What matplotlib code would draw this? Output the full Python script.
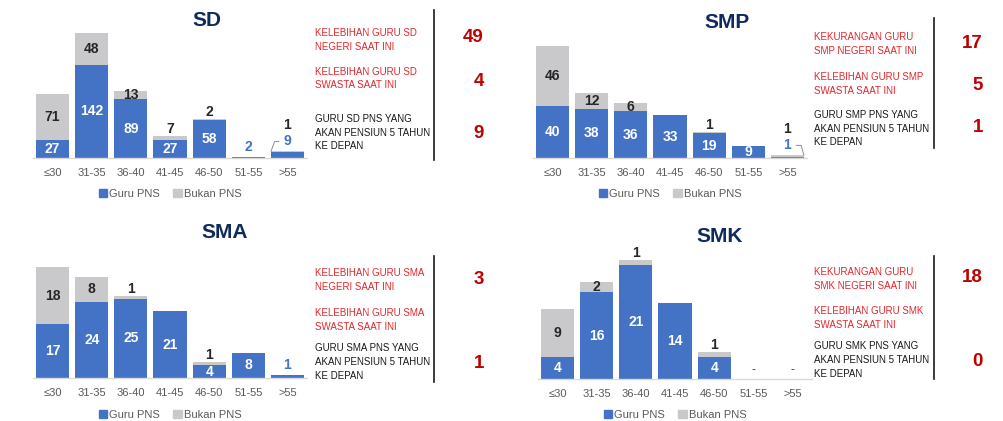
import matplotlib
matplotlib.use('Agg')
import matplotlib.pyplot as plt
from matplotlib.patches import Patch

plt.rcParams['font.family'] = ['Liberation Sans', 'DejaVu Sans']

# data
ages = ['≤30', '31-35', '36-40', '41-45', '46-50', '51-55', '>55']

sd_pns = [27, 142, 89, 27, 58, 2, 9]
sd_bukan = [71, 48, 13, 7, 2, 0, 1]
smp_pns = [40, 38, 36, 33, 19, 9, 1]
smp_bukan = [46, 12, 6, 0, 1, 0, 1]
sma_pns = [17, 24, 25, 21, 4, 8, 1]
sma_bukan = [18, 8, 1, 0, 1, 0, 0]
smk_pns = [4, 16, 21, 14, 4, 0, 0]
smk_bukan = [9, 2, 1, 0, 1, 0, 0]

sd_notes = ['KELEBIHAN GURU SD\nNEGERI SAAT INI', 'KELEBIHAN GURU SD\nSWASTA SAAT INI',
            'GURU SD PNS YANG\nAKAN PENSIUN 5 TAHUN\nKE DEPAN']
sd_numbers = ['49', '4', '9']
smp_notes = ['KEKURANGAN GURU\nSMP NEGERI SAAT INI', 'KELEBIHAN GURU SMP\nSWASTA SAAT INI',
             'GURU SMP PNS YANG\nAKAN PENSIUN 5 TAHUN\nKE DEPAN']
smp_numbers = ['17', '5', '1']
sma_notes = ['KELEBIHAN GURU SMA\nNEGERI SAAT INI', 'KELEBIHAN GURU SMA\nSWASTA SAAT INI',
             'GURU SMA PNS YANG\nAKAN PENSIUN 5 TAHUN\nKE DEPAN']
sma_numbers = ['3', '', '1']
smk_notes = ['KEKURANGAN GURU\nSMK NEGERI SAAT INI', 'KELEBIHAN GURU SMK\nSWASTA SAAT INI',
             'GURU SMK PNS YANG\nAKAN PENSIUN 5 TAHUN\nKE DEPAN']
smk_numbers = ['18', '', '0']

BLUE = '#4472C4'
GREY = '#C9C9CB'
NAVY = '#0F2B5E'
RED = '#E3262B'
DARKRED = '#C00000'

W, H = 1004, 421
fig = plt.figure(figsize=(W / 100, H / 100), dpi=100)


def fx(x):
    return x / W


def fy(y):
    return 1 - y / H


def panel(name, pns, bukan, notes, numbers, ox, base, top, title_xy, note_x, note_y,
          num_x, num_y, vline, legend_y, leader=None):
    width_px = 274
    head = 24
    ax = fig.add_axes([fx(ox), fy(base), width_px / W, (base - top + head) / H])
    totals = [p + b for p, b in zip(pns, bukan)]
    scale = (base - top) / max(totals)  # px per unit
    ax.set_ylim(0, (base - top + head) / scale)
    ax.set_xlim(-0.5, 6.5)
    x = list(range(len(ages)))
    ax.bar(x, pns, width=0.85, color=BLUE)
    ax.bar(x, bukan, width=0.85, bottom=pns, color=GREY)
    half_px = 0.42 * width_px / 7

    for i in x:
        p, b, t = pns[i], bukan[i], totals[i]
        if t == 0:
            ax.annotate('-', (i, 0), xytext=(0, 9 * 0.72), textcoords='offset points',
                        ha='center', va='center', fontsize=9, color='#404040')
            continue
        off = 0
        if p * scale >= 7:
            ax.text(i, p / 2, str(p), ha='center', va='center', color='white',
                    fontsize=10, fontweight='bold')
        elif p > 0:
            off = 10
            if leader is not None and leader[0] == i:
                side = leader[1]
                ax.annotate(str(p), (i + side * 0.42, t),
                            xytext=(-side * half_px * 0.72, off * 0.72),
                            textcoords='offset points', ha='center', va='center',
                            color=BLUE, fontsize=10, fontweight='bold',
                            arrowprops=dict(arrowstyle='-', color='#8C8C8C', lw=0.7,
                                            shrinkA=1.5, shrinkB=0,
                                            connectionstyle='angle,angleA=0,angleB=%d'
                                            % (70 if side < 0 else 105)))
            else:
                ax.annotate(str(p), (i, t), xytext=(0, off * 0.72), textcoords='offset points',
                            ha='center', va='center', color=BLUE, fontsize=10,
                            fontweight='bold')
        if b > 0:
            if b * scale >= 7:
                ax.text(i, p + b / 2, str(b), ha='center', va='center', color='#262626',
                        fontsize=10, fontweight='bold')
            else:
                goff = off + 16 if off else 7
                ax.annotate(str(b), (i, t), xytext=(0, goff * 0.72), textcoords='offset points',
                            ha='center', va='center', color='#262626', fontsize=10,
                            fontweight='bold')

    ax.set_xticks(x)
    ax.set_xticklabels(ages)
    ax.tick_params(axis='x', length=0, labelsize=8, labelcolor='#595959', pad=7)
    ax.set_yticks([])
    for s in ['top', 'left', 'right']:
        ax.spines[s].set_visible(False)
    ax.spines['bottom'].set_color('#D9D9D9')
    ax.spines['bottom'].set_linewidth(1)

    fig.text(fx(title_xy[0]), fy(title_xy[1]), name, ha='center', va='center',
             fontsize=15, fontweight='bold', color=NAVY)

    colors = [RED, RED, '#1A1A1A']
    for txt, ny, c in zip(notes, note_y, colors):
        fig.text(fx(note_x), fy(ny), txt, ha='left', va='center', fontsize=7.0,
                 color=c, linespacing=1.45)
    for n, ny in zip(numbers, num_y):
        if n:
            fig.text(fx(num_x), fy(ny), n, ha='right', va='center', fontsize=13.5,
                     fontweight='bold', color=DARKRED)

    fig.add_artist(plt.Line2D([fx(vline[0])] * 2, [fy(vline[1]), fy(vline[2])],
                              color='#1A1A1A', lw=1.2))

    handles = [Patch(color=BLUE, label='Guru PNS'), Patch(color=GREY, label='Bukan PNS')]
    fig.legend(handles=handles, loc='center', bbox_to_anchor=(fx(ox + width_px / 2), fy(legend_y)),
               bbox_transform=fig.transFigure, ncol=2, frameon=False, fontsize=8,
               handlelength=0.75, handleheight=0.75, handletextpad=0.2, columnspacing=1.2,
               labelcolor='#595959', borderpad=0)


panel('SD', sd_pns, sd_bukan, sd_notes, sd_numbers, ox=33, base=158, top=33,
      title_xy=(207, 20), note_x=315, note_y=[40, 78.5, 132.5], num_x=484,
      num_y=[38, 81, 133], vline=(434, 10, 160), legend_y=194, leader=(6, -1))
panel('SMP', smp_pns, smp_bukan, smp_notes, smp_numbers, ox=533, base=158, top=46,
      title_xy=(727, 22), note_x=814, note_y=[44, 84, 128.7], num_x=983,
      num_y=[43, 86, 128], vline=(934, 18, 148), legend_y=194, leader=(6, 1))
panel('SMA', sma_pns, sma_bukan, sma_notes, sma_numbers, ox=33, base=378, top=267,
      title_xy=(225, 233), note_x=315, note_y=[280, 320, 362], num_x=484,
      num_y=[279, 0, 363], vline=(434, 256, 382), legend_y=415)
panel('SMK', smk_pns, smk_bukan, smk_notes, smk_numbers, ox=538, base=379, top=260,
      title_xy=(720, 236), note_x=814, note_y=[279, 318, 360], num_x=983,
      num_y=[278, 0, 361], vline=(934, 256, 379), legend_y=415)

fig.savefig('out.png', dpi=100)
